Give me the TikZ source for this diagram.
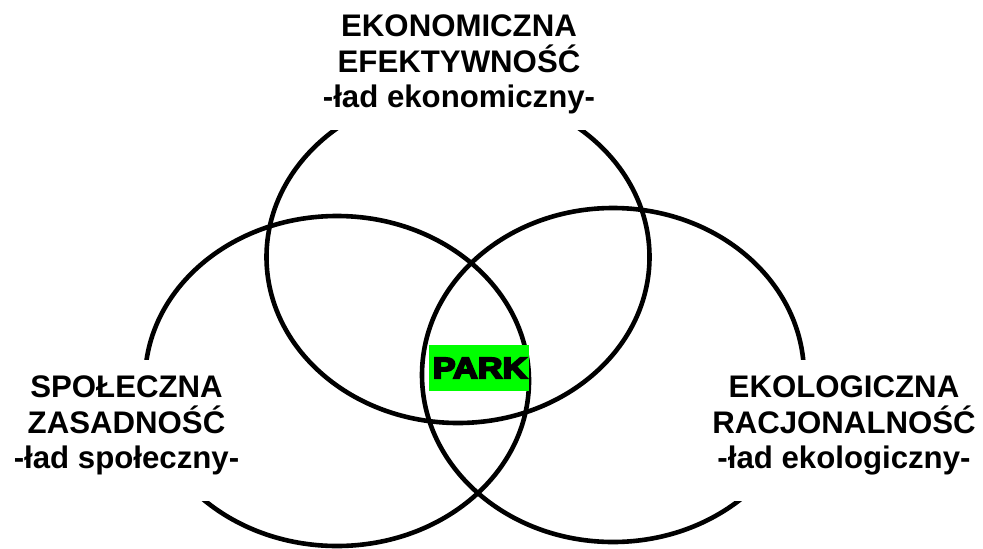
\documentclass[tikz,border=0pt]{standalone}
\usepackage{fontspec}
\setmainfont{Liberation Sans}
\font\parkfont="Liberation Sans Bold:embolden=6" at 29.5pt
\definecolor{parkgreen}{RGB}{0,255,0}
\begin{document}
\begin{tikzpicture}[x=1pt,y=-1pt,
  ring/.style={line width=4.6pt},
  mask/.style={fill=white, draw=none, inner sep=0pt, rectangle, anchor=north west},
  lbl/.style={align=center, inner sep=0pt, anchor=north,
    font=\fontsize{31.2}{35.5}\selectfont\bfseries}]
\useasboundingbox (0,0) rectangle (983,549);
% circles
\draw[ring] (458,257) ellipse [x radius=191.5, y radius=166];
\draw[ring] (337,381) ellipse [x radius=192, y radius=165];
\draw[ring] (613,375) ellipse [x radius=191, y radius=167];
% white masks behind labels
\node[mask, minimum width=290pt, minimum height=130pt] (maskT) at (315,0) {};
\node[mask, minimum width=250pt, minimum height=141pt] (maskL) at (0,360) {};
\node[mask, minimum width=278pt, minimum height=141pt] (maskR) at (705,360) {};
% labels
\node[lbl] (ekon) at (459,15) {EKONOMICZNA\\EFEKTYWNOŚĆ\\-ład ekonomiczny-};
\node[lbl] (spol) at (126.5,376) {SPOŁECZNA\\ZASADNOŚĆ\\-ład społeczny-};
\node[lbl] (ekol) at (844,376) {EKOLOGICZNA\\RACJONALNOŚĆ\\-ład ekologiczny-};
% centre
\node[fill=parkgreen, minimum width=100pt, minimum height=46pt, inner sep=0pt,
  font=\parkfont] (park) at (479,368) {\hspace*{2pt}\scalebox{1.16}[1]{PARK}};
\end{tikzpicture}
\end{document}
